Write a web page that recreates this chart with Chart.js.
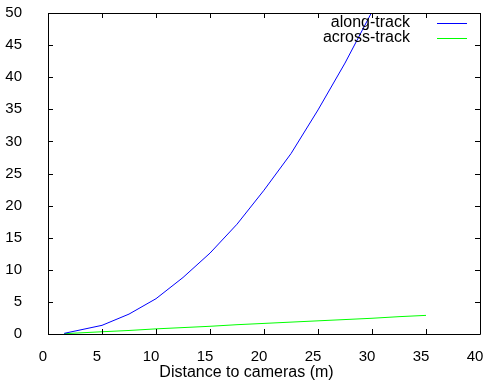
<!DOCTYPE html>
<html>
<head>
<meta charset="utf-8">
<script src="https://cdn.jsdelivr.net/npm/chart.js@4"></script>
<style>
  html, body { margin: 0; padding: 0; background: #fff; }
  #wrap { width: 489px; height: 387px; }
</style>
</head>
<body>
<div id="wrap"><canvas id="plot"></canvas></div>
<script>
// distance to cameras (m)
const distances = [1.5, 5, 7.5, 10, 12.5, 15, 17.5, 20, 22.5, 25, 27.5, 30, 32.5, 35];
const alongTrack = [0.1, 1.35, 3.1, 5.5, 8.8, 12.6, 17.1, 22.4, 28.1, 34.9, 42.2, 50.2, 58.5, 67.5];
const acrossTrack = [0.05, 0.35, 0.55, 0.8, 1.0, 1.2, 1.45, 1.65, 1.85, 2.05, 2.25, 2.45, 2.7, 2.9];
const seriesNames = ['along-track', 'across-track'];
const seriesColors = ['#0000ff', '#00ff00'];
const xTitle = 'Distance to cameras (m)';

const FONT = '"Liberation Sans", Arial, sans-serif';

function toPoints(ys) {
    return distances.map((d, i) => ({ x: d, y: ys[i] }));
}

// gnuplot style frame: border box + inward ticks on every side
const framePlugin = {
    id: 'frame',
    afterDatasetsDraw(chart) {
        const ctx = chart.ctx;
        const a = chart.chartArea;
        const xs = chart.scales.x, ys = chart.scales.y;
        const len = 5;
        ctx.save();
        ctx.strokeStyle = '#000';
        ctx.lineWidth = 1;
        ctx.beginPath();
        ctx.rect(a.left + 0.5, a.top + 0.5, a.right - a.left, a.bottom - a.top);
        xs.ticks.forEach(t => {
            const px = Math.round(xs.getPixelForValue(t.value)) + 0.5;
            ctx.moveTo(px, a.bottom); ctx.lineTo(px, a.bottom - len);
            ctx.moveTo(px, a.top); ctx.lineTo(px, a.top + len);
        });
        ys.ticks.forEach(t => {
            const py = Math.round(ys.getPixelForValue(t.value)) + 0.5;
            ctx.moveTo(a.left, py); ctx.lineTo(a.left + len, py);
            ctx.moveTo(a.right, py); ctx.lineTo(a.right - len, py);
        });
        ctx.stroke();
        ctx.restore();
    }
};

// key in the top right corner (text first, then the line sample) and the x label,
// which gnuplot centres on the whole image
const keyPlugin = {
    id: 'key',
    afterDraw(chart) {
        const ctx = chart.ctx;
        const a = chart.chartArea;
        ctx.save();
        ctx.font = '16px ' + FONT;
        ctx.textAlign = 'right';
        ctx.textBaseline = 'middle';
        seriesNames.forEach((name, i) => {
            const y = a.top + 10 + i * 15;
            ctx.fillStyle = '#000';
            ctx.fillText(name, a.right - 70, y);
            ctx.strokeStyle = seriesColors[i];
            ctx.lineWidth = 1;
            ctx.beginPath();
            ctx.moveTo(a.right - 43, Math.round(y) + 0.5);
            ctx.lineTo(a.right - 13, Math.round(y) + 0.5);
            ctx.stroke();
        });
        ctx.textAlign = 'center';
        ctx.fillStyle = '#000';
        ctx.fillText(xTitle, chart.width / 2 + 2, a.bottom + 39);
        ctx.restore();
    }
};

new Chart(document.getElementById('plot'), {
    type: 'scatter',
    data: {
        datasets: [
            { label: seriesNames[0], data: toPoints(alongTrack), borderColor: seriesColors[0], borderWidth: 1, showLine: true, pointRadius: 0, tension: 0 },
            { label: seriesNames[1], data: toPoints(acrossTrack), borderColor: seriesColors[1], borderWidth: 1, showLine: true, pointRadius: 0, tension: 0 }
        ]
    },
    options: {
        responsive: true,
        maintainAspectRatio: false,
        animation: false,
        layout: { padding: { top: 13, right: 9, left: 0, bottom: 0 } },
        plugins: {
            legend: { display: false },
            tooltip: { enabled: false }
        },
        scales: {
            x: {
                type: 'linear',
                min: 0, max: 40,
                grid: { display: false },
                border: { display: false },
                ticks: { stepSize: 5, color: '#000', padding: 6, labelOffset: -5, maxRotation: 0, font: { family: FONT, size: 15 } },
                afterFit(s) { s.height = 53; s.paddingLeft = 0; s.paddingRight = 0; }
            },
            y: {
                min: 0, max: 50,
                grid: { display: false },
                border: { display: false },
                ticks: { stepSize: 5, color: '#000', padding: 18, font: { family: FONT, size: 15 } },
                afterFit(s) { s.width = 48; s.paddingTop = 0; s.paddingBottom = 0; }
            }
        }
    },
    plugins: [framePlugin, keyPlugin]
});
</script>
</body>
</html>
